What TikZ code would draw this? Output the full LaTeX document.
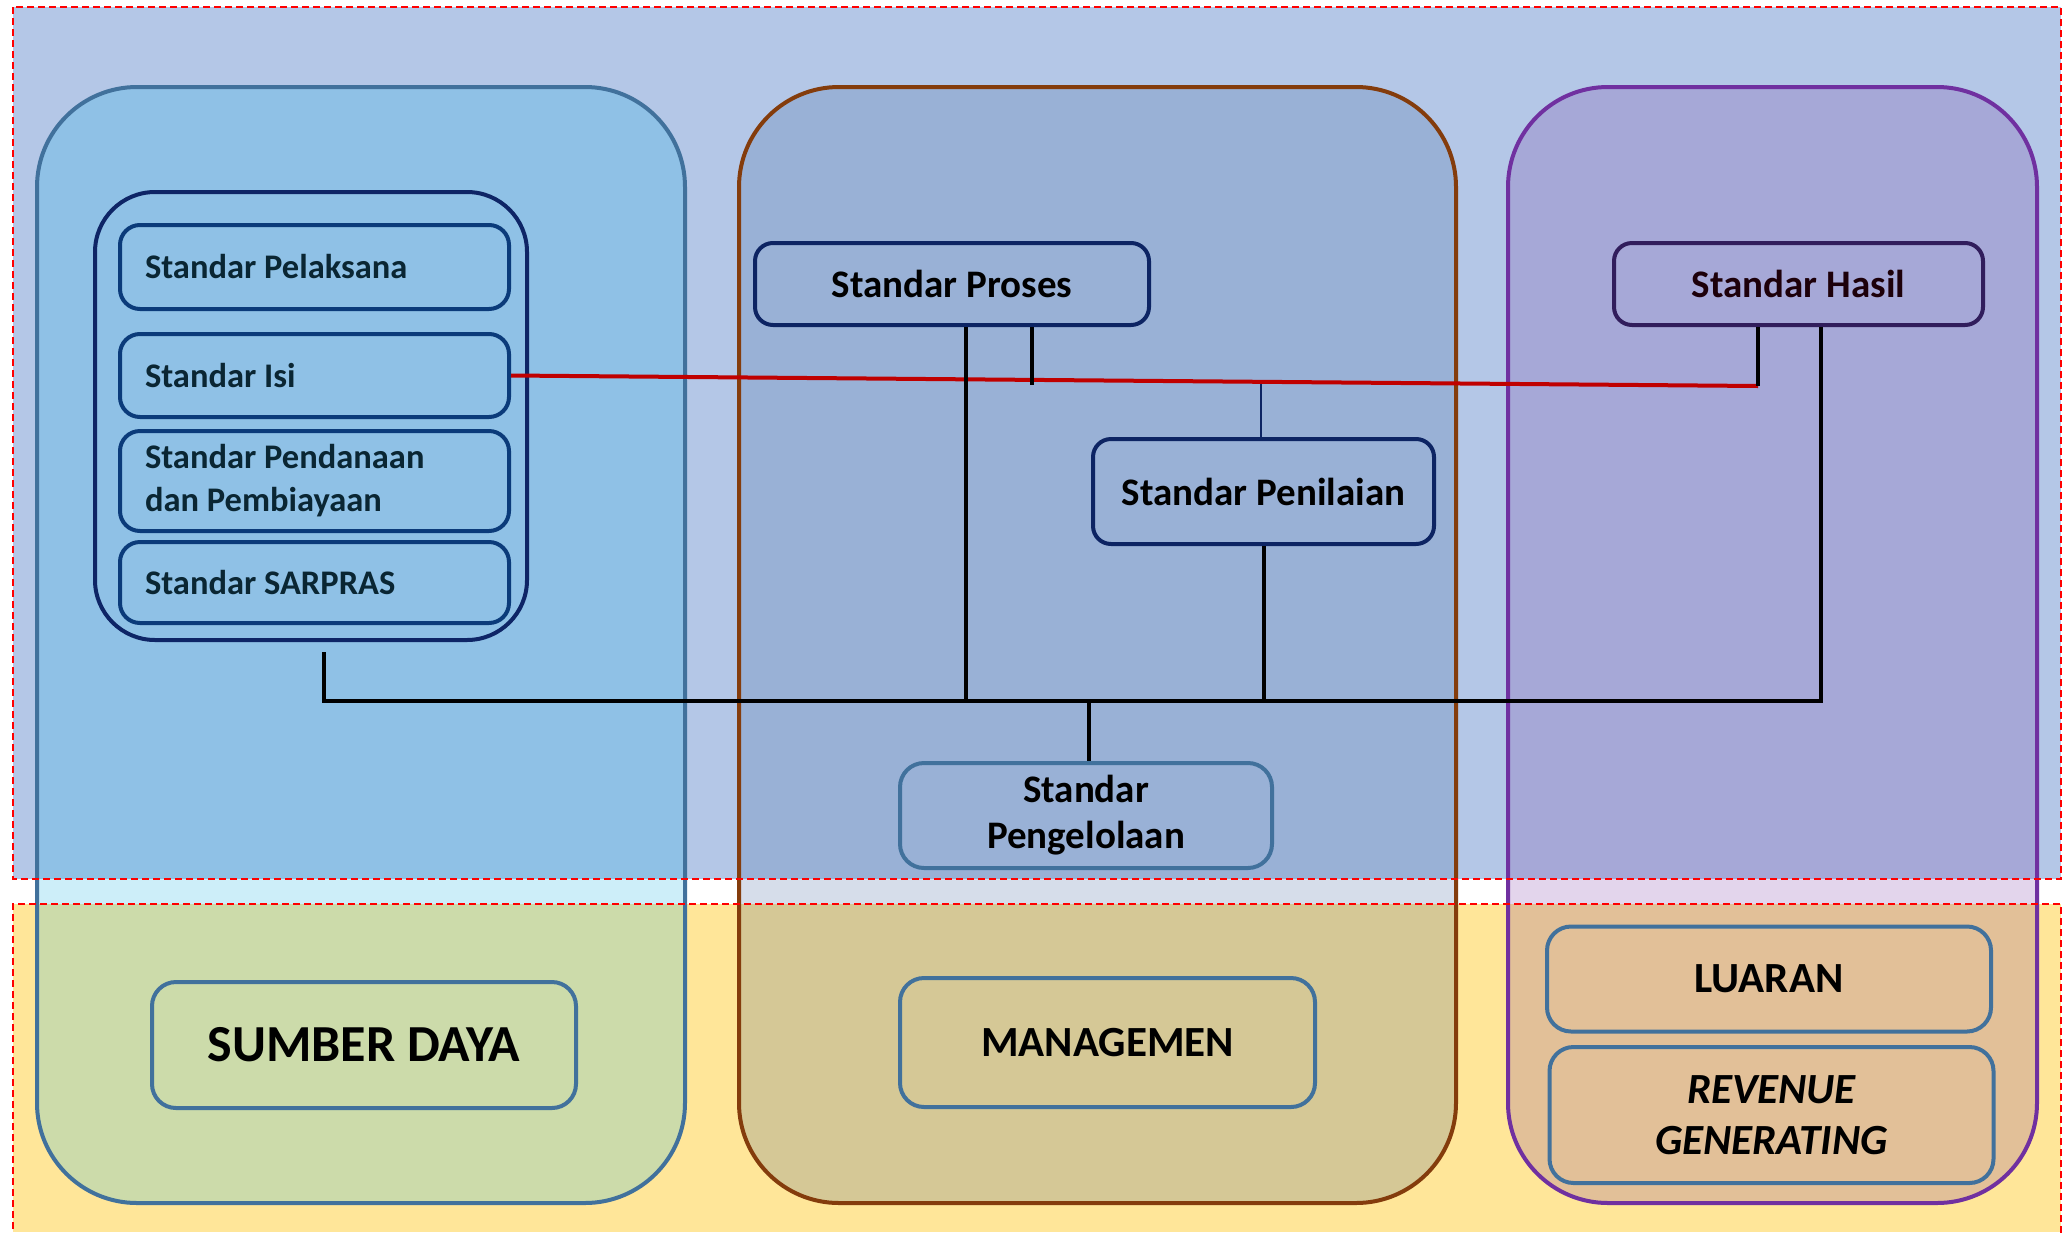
\documentclass[tikz,border=0pt]{standalone}
\usepackage{fontspec}
\setmainfont{Carlito}
\begin{document}
\begin{tikzpicture}[x=1pt,y=-1pt,
  colL/.style={draw=colLb,line width=4pt,rounded corners=100pt},
  innerbox/.style={draw=innerb,line width=4pt,rounded corners=20pt,minimum height=#1,
     text width=339pt,align=flush left,inner xsep=25pt,inner ysep=0pt,text=txtdark,
     font=\bfseries\fontsize{34.5}{43}\selectfont},
  navybox/.style={draw=navyb,line width=4pt,rounded corners=18pt,inner sep=0pt,
     font=\bfseries\fontsize{39}{46}\selectfont,text=black},
  steelbox/.style={draw=steelb,line width=4pt,rounded corners=24pt,inner sep=0pt,
     font=\bfseries\fontsize{43}{51}\selectfont,text=black,align=center},
  blk/.style={draw=black,line width=4pt},
  redln/.style={draw=redl,line width=4pt},
  region/.style={draw=red,line width=1.8pt,dash pattern=on 7pt off 4pt}
]
\definecolor{topbg}{HTML}{B4C7E7}
\definecolor{botbg}{HTML}{FFE699}
\definecolor{LA}{HTML}{8FC1E6}
\definecolor{LB}{HTML}{CDEEF9}
\definecolor{LC}{HTML}{CCDBAA}
\definecolor{MA}{HTML}{99B1D6}
\definecolor{MB}{HTML}{D6DDEA}
\definecolor{MC}{HTML}{D5C896}
\definecolor{RA}{HTML}{A6A8D7}
\definecolor{RB}{HTML}{E3D5EC}
\definecolor{RC}{HTML}{E2C098}
\definecolor{colLb}{HTML}{41719C}
\definecolor{colMb}{HTML}{843C0C}
\definecolor{colRb}{HTML}{7030A0}
\definecolor{innerb}{HTML}{0B3B7A}
\definecolor{grpb}{HTML}{0E2566}
\definecolor{navyb}{HTML}{0D2463}
\definecolor{steelb}{HTML}{41719C}
\definecolor{txtdark}{HTML}{0A2633}
\definecolor{redl}{HTML}{C00000}

\useasboundingbox (0,0) rectangle (2066,1232);
\fill[white] (0,0) rectangle (2066,1232);
% region backgrounds
\fill[topbg] (13,7) rectangle (2061,879);
\fill[botbg] (13,904) rectangle (2061,1232);

% columns
\begin{scope}
\clip[rounded corners=100pt] (37,87) rectangle (685,1203);
\fill[LA] (0,0) rectangle (2066,879);
\fill[LB] (0,879) rectangle (2066,904);
\fill[LC] (0,904) rectangle (2066,1232);
\end{scope}
\draw[colL] (37,87) rectangle (685,1203);
\begin{scope}
\clip[rounded corners=100pt] (739,87) rectangle (1456,1203);
\fill[MA] (0,0) rectangle (2066,879);
\fill[MB] (0,879) rectangle (2066,904);
\fill[MC] (0,904) rectangle (2066,1232);
\end{scope}
\draw[colL,draw=colMb] (739,87) rectangle (1456,1203);
\begin{scope}
\clip[rounded corners=100pt] (1508,87) rectangle (2037,1203);
\fill[RA] (0,0) rectangle (2066,879);
\fill[RB] (0,879) rectangle (2066,904);
\fill[RC] (0,904) rectangle (2066,1232);
\end{scope}
\draw[colL,draw=colRb] (1508,87) rectangle (2037,1203);

% region borders
\draw[region] (13,7) rectangle (2061,879);
\draw[region] (13,1240) -- (13,904) -- (2061,904) -- (2061,1240);

% left group
\node[draw=grpb,line width=4pt,rounded corners=60pt,minimum width=432pt,minimum height=448pt,inner sep=0pt] (grp) at (311,416) {};
\node[innerbox=84pt] (pel) at (314.5,267) {Standar Pelaksana};
\node[innerbox=83pt] (isi) at (314.5,375.5) {Standar Isi};
\node[innerbox=100pt] (pend) at (314.5,481) {Standar Pendanaan\\dan Pembiayaan};
\node[innerbox=81pt] (sar) at (314.5,582.5) {Standar SARPRAS};

% middle / right nodes
\node[navybox,minimum width=394pt,minimum height=82pt] (proses) at (952,284) {Standar Proses};
\node[navybox,draw=navyb!80!purple,minimum width=369pt,minimum height=82pt,text=black!85!purple] (hasil) at (1798.5,284) {Standar Hasil};
\node[navybox,minimum width=341pt,minimum height=105pt] (penil) at (1263.5,491.5) {Standar Penilaian};
\node[steelbox,minimum width=372pt,minimum height=105pt,font=\bfseries\fontsize{39}{46}\selectfont] (pengel) at (1086,815.5) {Standar\\Pengelolaan};

% bottom nodes
\node[steelbox,minimum width=424pt,minimum height=126pt,font=\bfseries\fontsize{52}{60}\selectfont] (sumber) at (364,1045) {SUMBER DAYA};
\node[steelbox,minimum width=415pt,minimum height=129pt] (manag) at (1107.5,1042.5) {MANAGEMEN};
\node[steelbox,minimum width=444pt,minimum height=105pt] (luaran) at (1769,979) {LUARAN};
\node[steelbox,minimum width=444pt,minimum height=136pt,font=\bfseries\itshape\fontsize{43}{51}\selectfont] (revenue) at (1771.5,1115) {REVENUE\\GENERATING};

% connectors
\coordinate (rEnd) at (1758,386);
\coordinate (pS) at (1032,385);
\coordinate (rMid) at (1261,383.5);
\coordinate (busL) at (324,701);
\coordinate (busR) at (1821,701);
\coordinate (bP) at (966,701);
\coordinate (bG) at (1089,701);

\draw[redln] (isi.east) -- (rEnd);
\draw[blk] (rEnd |- hasil.south) -- (rEnd);
\draw[blk] (pS |- proses.south) -- (pS);
\draw[draw=navyb,line width=2.5pt] (rMid) -- (rMid |- penil.north);
\draw[blk] ([yshift=-10pt]grp.south -| busL) -- (busL) -- (busR) -- (busR |- hasil.south);
\draw[blk] (bP |- proses.south) -- (bP);
\draw[blk] (penil.south) -- (penil.south |- busL);
\draw[blk] (bG) -- (bG |- pengel.north);
\end{tikzpicture}
\end{document}
